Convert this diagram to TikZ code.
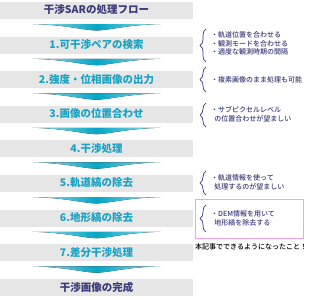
\documentclass[tikz,border=0pt]{standalone}
\usepackage{fontspec}
\setmainfont{Noto Sans CJK JP}
\newfontfamily\notefont[UprightFont=* Medium]{Noto Sans CJK JP}
\usetikzlibrary{calc,decorations.pathreplacing}
\definecolor{boxgray}{HTML}{E6E6E6}
\definecolor{stepteal}{HTML}{1BA2C3}
\definecolor{arrowteal}{HTML}{05A6C5}
\definecolor{arrowlite}{HTML}{9ADCEA}
\definecolor{notenavy}{HTML}{3B3B78}
\definecolor{notepink}{HTML}{F7A0E4}

\begin{document}
\begin{tikzpicture}[x=1pt, y=1pt,
        stepbox/.style={fill=boxgray, minimum width=193pt, minimum height=17pt, inner sep=0pt,
          font=\fontsize{10.5}{12}\selectfont\bfseries, text=stepteal},
        headbox/.style={stepbox, text=notenavy},
        note/.style={align=left, anchor=west, inner sep=0pt,
          font=\notefont\fontsize{7}{8.6}\selectfont, text=notenavy},
        notebrace/.style={decorate, decoration={brace, amplitude=6pt}, draw=notenavy, line width=0.7pt}
      ]
        \useasboundingbox (0,0) rectangle (330,-300);

        % Ablauf
        \node[headbox] (title) at (96.5,-10) {干渉SARの処理フロー};
        \node[stepbox] (s1) at (96.5,-45) {1.可干渉ペアの検索};
        \node[stepbox] (s2) at (96.5,-79.5) {2.強度・位相画像の出力};
        \node[stepbox] (s3) at (96.5,-114) {3.画像の位置合わせ};
        \node[stepbox] (s4) at (96.5,-148.5) {4.干渉処理};
        \node[stepbox] (s5) at (96.5,-183) {5.軌道縞の除去};
        \node[stepbox] (s6) at (96.5,-218) {6.地形縞の除去};
        \node[stepbox] (s7) at (96.5,-252.5) {7.差分干渉処理};
        \node[headbox] (done) at (96.5,-287) {干渉画像の完成};

        % Pfeile zwischen den Schritten
        \foreach \a/\b in {title/s1, s1/s2, s2/s3, s3/s4, s4/s5, s5/s6, s6/s7, s7/done} {
          \coordinate (m) at ($(\a.south)!0.5!(\b.north)$);
          \fill[left color=arrowlite, right color=arrowlite, middle color=arrowteal]
            ($(m)+(-64,3.5)$) -- ($(m)+(64,3.5)$)
            .. controls ($(m)+(30,2.5)$) and ($(m)+(14,-2.5)$) .. ($(m)+(0,-3)$)
            .. controls ($(m)+(-14,-2.5)$) and ($(m)+(-30,2.5)$) .. cycle;
        }

        % Hinweise
        \draw[draw=notepink, line width=1pt] (195,-199.5) rectangle (303,-238);

        \draw[notebrace] (206,-62) -- (206,-29);
        \node[note] (n1) at (211,-43.5) {・軌道位置を合わせる\\・観測モードを合わせる\\・適度な観測時期の間隔};
        \draw[notebrace] (206,-92) -- (206,-67);
        \node[note] (n2) at (211,-80) {・複素画像のまま処理も可能};
        \draw[notebrace] (206,-127) -- (206,-103);
        \node[note] (n3) at (211,-114.5) {・サブピクセルレベル\\\ \ の位置合わせが望ましい};
        \draw[notebrace] (206,-195) -- (206,-171);
        \node[note] (n5) at (211,-182.5) {・軌道情報を使って\\\ \ 処理するのが望ましい};
        \draw[notebrace] (206,-232) -- (206,-205);
        \node[note] (n6) at (211,-218.5) {・DEM情報を用いて\\\ \ 地形縞を除去する};

        \node[anchor=west, inner sep=0pt, font=\notefont\fontsize{7}{8}\selectfont] (gain) at (195,-247) {本記事でできるようになったこと！};
      \end{tikzpicture}
\end{document}
